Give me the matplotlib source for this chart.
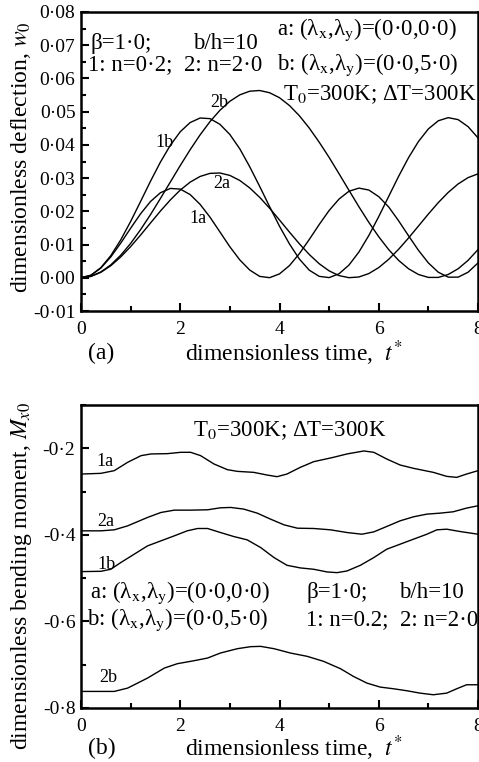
import numpy as np
import matplotlib
matplotlib.use("Agg")
from matplotlib import pyplot as plt
from matplotlib.ticker import MultipleLocator, FuncFormatter

plt.rcParams["font.family"] = ["Liberation Serif", "DejaVu Serif"]
plt.rcParams["mathtext.fontset"] = "stix"

# ---- (a) dimensionless deflection w0 vs t*
t_a = [0.0, 0.2, 0.4, 0.6, 0.8, 1.0, 1.2, 1.4, 1.6, 1.8, 2.0, 2.2, 2.4, 2.6,
       2.8, 3.0, 3.2, 3.4, 3.6, 3.8, 4.0, 4.2, 4.4, 4.6, 4.8, 5.0, 5.2, 5.4,
       5.6, 5.8, 6.0, 6.2, 6.4, 6.6, 6.8, 7.0, 7.2, 7.4, 7.6, 7.8, 8.0]
w_1a = [0.0, 0.00075, 0.00292, 0.00627, 0.01042, 0.01491, 0.01925, 0.02295,
        0.02559, 0.02689, 0.02670, 0.02504, 0.02210, 0.01823, 0.01378, 0.00933,
        0.00538, 0.00233, 0.00042, 0.00003, 0.00117, 0.00366, 0.00725, 0.01153,
        0.01603, 0.02025, 0.02370, 0.02605, 0.02699, 0.02641, 0.02442, 0.02132,
        0.01716, 0.01265, 0.00827, 0.00447, 0.00167, 0.00019, 0.00019, 0.00167,
        0.00447]
w_1b = [0.0, 0.00077, 0.00304, 0.00666, 0.01139, 0.01694, 0.02295, 0.02904,
        0.03481, 0.03988, 0.04396, 0.04673, 0.04809, 0.04790, 0.04619, 0.04312,
        0.03881, 0.03342, 0.02752, 0.02143, 0.01551, 0.01020, 0.00564, 0.00229,
        0.00043, 0.00005, 0.00121, 0.00383, 0.00775, 0.01273, 0.01842, 0.02448,
        0.03053, 0.03615, 0.04101, 0.04481, 0.04726, 0.04820, 0.04760, 0.04549,
        0.04211]
w_2a = [0.0, 0.00042, 0.00165, 0.00363, 0.00627, 0.00938, 0.01285, 0.01648,
        0.02007, 0.02343, 0.02640, 0.02879, 0.03050, 0.03143, 0.03154, 0.03081,
        0.02929, 0.02705, 0.02422, 0.02095, 0.01739, 0.01376, 0.01024, 0.00701,
        0.00423, 0.00208, 0.00065, 0.00003, 0.00024, 0.00127, 0.00307, 0.00555,
        0.00857, 0.01197, 0.01557, 0.01919, 0.02263, 0.02570, 0.02825, 0.03015,
        0.03128]
w_2b = [0.0, 0.00044, 0.00175, 0.00388, 0.00678, 0.01034, 0.01448, 0.01900,
        0.02386, 0.02882, 0.03378, 0.03856, 0.04302, 0.04702, 0.05042, 0.05313,
        0.05506, 0.05616, 0.05637, 0.05570, 0.05420, 0.05186, 0.04878, 0.04506,
        0.04081, 0.03623, 0.03131, 0.02633, 0.02138, 0.01668, 0.01235, 0.00849,
        0.00524, 0.00272, 0.00099, 0.00011, 0.00011, 0.00099, 0.00272, 0.00524,
        0.00848]

# ---- (b) dimensionless bending moment Mx0 vs t*
t_m1a = [0.0, 0.40, 0.67, 0.94, 1.21, 1.41, 1.74, 2.01, 2.21, 2.41, 2.68, 2.95,
         3.15, 3.48, 3.75, 3.95, 4.15, 4.42, 4.69, 5.09, 5.36, 5.70, 5.90, 6.16,
         6.43, 6.70, 7.10, 7.37, 7.57, 7.77, 8.0]
m_1a = [-0.2595, -0.2579, -0.2517, -0.2324, -0.2170, -0.2131, -0.2124, -0.2093,
        -0.2093, -0.2170, -0.2363, -0.2494, -0.2533, -0.2556, -0.2618, -0.2656,
        -0.2595, -0.2440, -0.2309, -0.2208, -0.2131, -0.2062, -0.2093, -0.2247,
        -0.2386, -0.2463, -0.2556, -0.2649, -0.2672, -0.2595, -0.2517]
t_m2a = [0.0, 0.40, 0.67, 0.94, 1.34, 1.61, 1.88, 2.21, 2.55, 2.81, 3.02, 3.28,
         3.55, 3.82, 4.09, 4.36, 4.69, 5.03, 5.36, 5.66, 5.90, 6.16, 6.43, 6.70,
         6.97, 7.24, 7.50, 7.77, 8.0]
m_2a = [-0.3907, -0.3907, -0.3884, -0.3792, -0.3598, -0.3483, -0.3429, -0.3429,
        -0.3421, -0.3375, -0.3367, -0.3405, -0.3498, -0.3637, -0.3768, -0.3846,
        -0.3853, -0.3884, -0.3946, -0.3985, -0.3931, -0.3807, -0.3676, -0.3583,
        -0.3521, -0.3498, -0.3467, -0.3382, -0.3328]
t_m1b = [0.0, 0.40, 0.60, 0.80, 1.07, 1.34, 1.61, 1.88, 2.14, 2.35, 2.55, 2.81,
         3.08, 3.35, 3.62, 3.89, 4.15, 4.42, 4.69, 4.96, 5.16, 5.36, 5.63, 5.90,
         6.16, 6.43, 6.70, 6.97, 7.17, 7.37, 7.64, 8.0]
m_1b = [-0.4849, -0.4842, -0.4795, -0.4641, -0.4448, -0.4255, -0.4139, -0.4023,
        -0.3907, -0.3853, -0.3853, -0.3946, -0.4039, -0.4116, -0.4293, -0.4525,
        -0.4703, -0.4764, -0.4795, -0.4857, -0.4873, -0.4834, -0.4703, -0.4525,
        -0.4332, -0.4216, -0.4100, -0.3985, -0.3884, -0.3869, -0.3923, -0.3985]
t_m2b = [0.0, 0.40, 0.67, 0.94, 1.34, 1.68, 1.94, 2.28, 2.55, 2.81, 3.15, 3.42,
         3.62, 3.89, 4.22, 4.56, 4.89, 5.23, 5.49, 5.76, 6.03, 6.30, 6.57, 6.83,
         7.10, 7.37, 7.57, 7.77, 8.0]
m_2b = [-0.7617, -0.7617, -0.7617, -0.7540, -0.7309, -0.7077, -0.6977, -0.6907,
        -0.6846, -0.6730, -0.6630, -0.6583, -0.6576, -0.6630, -0.6730, -0.6807,
        -0.6923, -0.7093, -0.7270, -0.7424, -0.7517, -0.7556, -0.7602, -0.7656,
        -0.7694, -0.7656, -0.7556, -0.7463, -0.7463]


def dot_fmt(nd):
    return FuncFormatter(lambda v, p: f"{v:.{nd}f}".replace(".", "\u00b7"))


W, H = 479, 762
fig = plt.figure(figsize=(W / 100, H / 100), dpi=100)
ax1 = fig.add_axes([81 / W, 1 - 311 / H, 397 / W, 299 / H])
ax2 = fig.add_axes([81 / W, 1 - 708 / H, 397 / W, 303 / H])

for ax in (ax1, ax2):
    ax.set_xlim(0, 8)
    ax.xaxis.set_major_locator(MultipleLocator(2))
    ax.xaxis.set_minor_locator(MultipleLocator(1))
    ax.tick_params(which="both", direction="in", labelsize=14, width=1.5)
    ax.tick_params(which="major", length=6)
    ax.tick_params(which="minor", length=3.5)
    ax.tick_params(axis="x", pad=7)
    ax.tick_params(axis="y", pad=4)
    for s in ax.spines.values():
        s.set_linewidth(1.8)

lw = 1.0
for w in (w_1a, w_1b, w_2a, w_2b):
    ax1.plot(t_a, w, color="black", lw=lw)
ax1.set_ylim(-0.01, 0.08)
ax1.yaxis.set_major_locator(MultipleLocator(0.01))
ax1.yaxis.set_minor_locator(MultipleLocator(0.005))
ax1.yaxis.set_major_formatter(dot_fmt(2))

ax2.plot(t_m1a, m_1a, color="black", lw=lw)
ax2.plot(t_m2a, m_2a, color="black", lw=lw)
ax2.plot(t_m1b, m_1b, color="black", lw=lw)
ax2.plot(t_m2b, m_2b, color="black", lw=lw)
ax2.set_ylim(-0.8, -0.1)
ax2.yaxis.set_major_locator(MultipleLocator(0.2))
ax2.yaxis.set_minor_locator(MultipleLocator(0.1))
ax2.yaxis.set_major_formatter(dot_fmt(1))

# axis labels
ax1.set_ylabel(r"dimensionless deflection, $w_0$", fontsize=17)
ax1.yaxis.label.set_va("center")
ax1.yaxis.set_label_coords(-0.151, 0.515)
ax2.set_ylabel(r"dimensionless bending moment, $M_{x0}$", fontsize=17)
ax2.yaxis.label.set_va("center")
ax2.yaxis.set_label_coords(-0.151, 0.435)
for ax, yc in ((ax1, -0.14), (ax2, -0.133)):
    ax.set_xlabel(r"dimensionless time,  $t^{*}$", fontsize=17)
    ax.xaxis.label.set_va("center")
    ax.xaxis.set_label_coords(0.535, yc)

fig.text(88 / W, 1 - 353 / H, "(a)", fontsize=17, va="center")
fig.text(88 / W, 1 - 748 / H, "(b)", fontsize=17, va="center")

# annotations panel (a)
fs = 16.5
ax1.text(0.025, 0.896, "\u03b2=1\u00b70;", fontsize=fs, va="center", transform=ax1.transAxes)
ax1.text(0.282, 0.896, "b/h=10", fontsize=fs, va="center", transform=ax1.transAxes)
ax1.text(0.018, 0.823, "1: n=0\u00b72;  2: n=2\u00b70", fontsize=fs, va="center", transform=ax1.transAxes)
ax1.text(0.494, 0.94, "a: (\u03bb$_{\\rm x}$,\u03bb$_{\\rm y}$)=(0\u00b70,0\u00b70)", fontsize=fs,
         va="center", transform=ax1.transAxes)
ax1.text(0.494, 0.823, "b: (\u03bb$_{\\rm x}$,\u03bb$_{\\rm y}$)=(0\u00b70,5\u00b70)", fontsize=fs,
         va="center", transform=ax1.transAxes)
ax1.text(0.51, 0.725, "T$_0$=300K; \u0394T=300K", fontsize=fs, va="center", transform=ax1.transAxes)

for lab, x, y in (("2b", 0.348, 0.697), ("1b", 0.209, 0.565), ("2a", 0.355, 0.425), ("1a", 0.295, 0.31)):
    ax1.text(x, y, lab, fontsize=13, ha="center", va="center", transform=ax1.transAxes)

# annotations panel (b)
ax2.text(0.282, 0.914, "T$_0$=300K; \u0394T=300K", fontsize=fs, va="center", transform=ax2.transAxes)
ax2.text(0.022, 0.38, "a: (\u03bb$_{\\rm x}$,\u03bb$_{\\rm y}$)=(0\u00b70,0\u00b70)", fontsize=fs,
         va="center", transform=ax2.transAxes)
ax2.text(0.015, 0.29, "b: (\u03bb$_{\\rm x}$,\u03bb$_{\\rm y}$)=(0\u00b70,5\u00b70)", fontsize=fs,
         va="center", transform=ax2.transAxes)
ax2.text(0.567, 0.38, "\u03b2=1\u00b70;", fontsize=fs, va="center", transform=ax2.transAxes)
ax2.text(0.80, 0.38, "b/h=10", fontsize=fs, va="center", transform=ax2.transAxes)
ax2.text(0.567, 0.29, "1: n=0.2;  2: n=2\u00b70", fontsize=fs, va="center", transform=ax2.transAxes)

for lab, x, y in (("1a", 0.06, 0.812), ("2a", 0.063, 0.617), ("1b", 0.063, 0.475), ("2b", 0.068, 0.102)):
    ax2.text(x, y, lab, fontsize=13, ha="center", va="center", transform=ax2.transAxes)

fig.savefig("out.png", dpi=100)
